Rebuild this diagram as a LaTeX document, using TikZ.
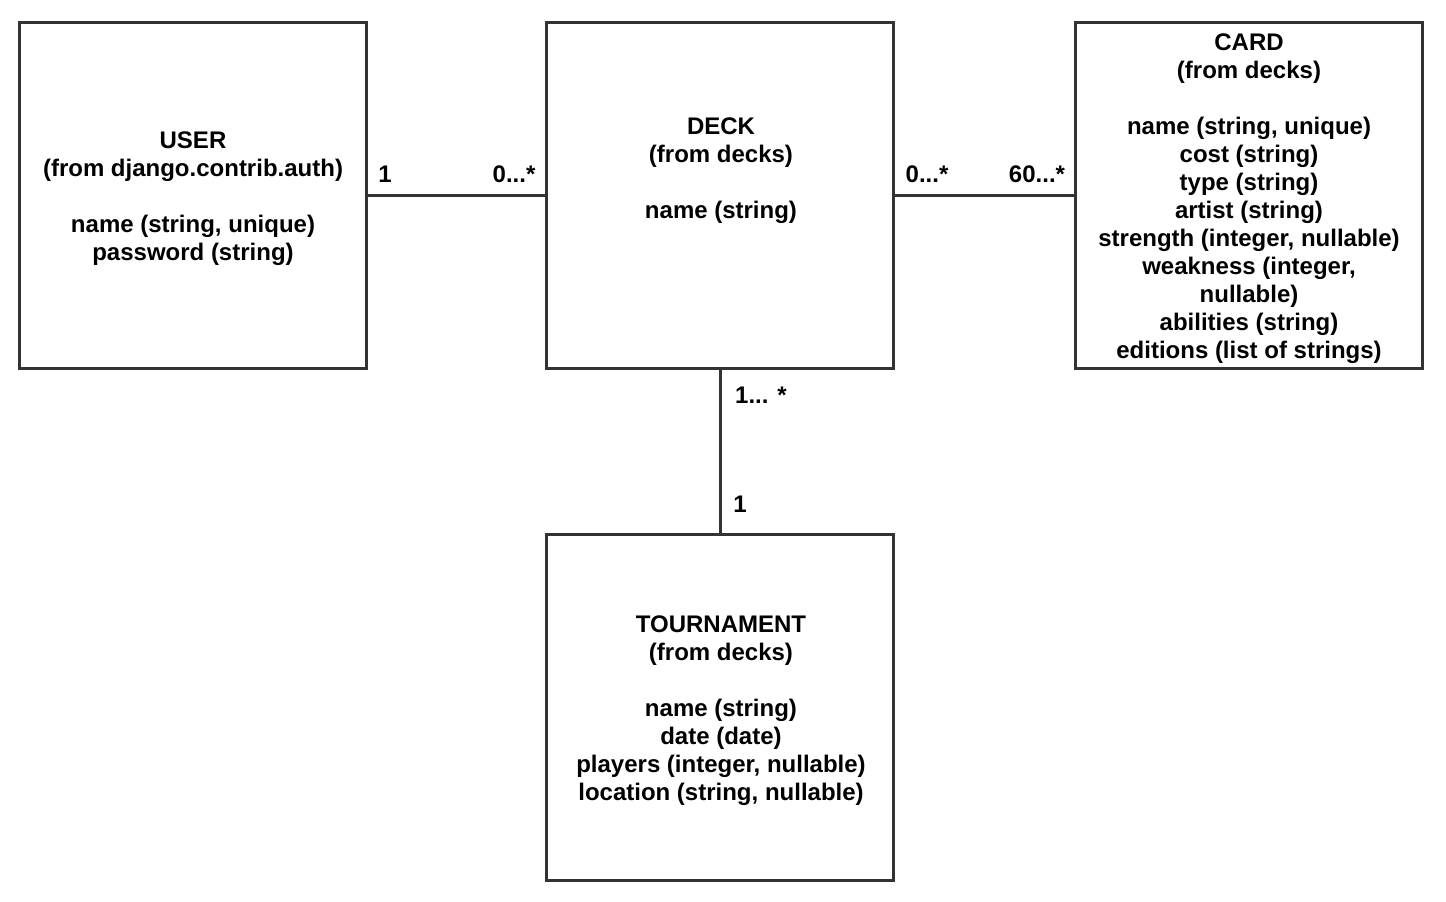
\documentclass[tikz,border=0pt]{standalone}
\usepackage{fontspec}
\setmainfont{Liberation Sans}
\definecolor{ln}{HTML}{333333}
\begin{document}
\begin{tikzpicture}[x=1pt,y=-1pt,
  every node/.style={font=\fontsize{24}{28}\selectfont\bfseries, text=black},
  box/.style={draw=ln, line width=3pt, minimum width=347pt, minimum height=346pt, inner sep=0pt},
  txt/.style={align=center, inner sep=0pt},
  conn/.style={draw=ln, line width=3pt},
  mult/.style={inner sep=0pt, anchor=base}]
\useasboundingbox[fill=white] (0,0) rectangle (1446,902);
\node[box] (user) at (192.5,195) {};
\node[box] (deck) at (720,195) {};
\node[box] (card) at (1248.5,195) {};
\node[box] (tour) at (720,707) {};
\node[txt] (usertext) at (193,199) {USER\\(from django.contrib.auth)\\[28pt]name (string, unique)\\password (string)};
\node[txt] (decktext) at (721,171) {DECK\\(from decks)\\[28pt]name (string)};
\node[txt] (cardtext) at (1249,199) {CARD\\(from decks)\\[28pt]name (string, unique)\\cost (string)\\type (string)\\artist (string)\\strength (integer, nullable)\\weakness (integer,\\nullable)\\abilities (string)\\editions (list of strings)};
\node[txt] (tourtext) at (721,711) {TOURNAMENT\\(from decks)\\[28pt]name (string)\\date (date)\\players (integer, nullable)\\location (string, nullable)};
\draw[conn] (user.east) -- (deck.west);
\draw[conn] (deck.east) -- (card.west);
\draw[conn] (deck.south) -- (tour.north);
\node[mult] (m1) at (385,182) {1};
\node[mult] (m2) at (514,182) {0...*};
\node[mult] (m3) at (927,182) {0...*};
\node[mult] (m4) at (1037,182) {60...*};
\node[mult] (m5) at (761,403) {1... *};
\node[mult] (m6) at (740,512) {1};
\end{tikzpicture}
\end{document}
